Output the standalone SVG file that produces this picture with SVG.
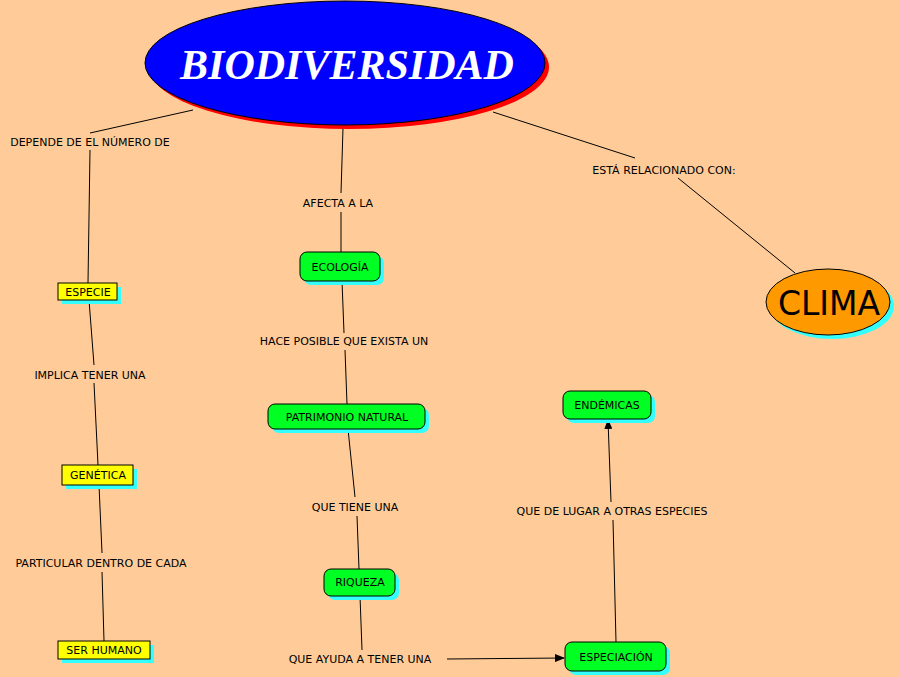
<svg xmlns="http://www.w3.org/2000/svg" width="899" height="677" viewBox="0 0 899 677">
<style>
.l{stroke:#000;stroke-width:1;fill:none}
.t{font-family:"DejaVu Sans",sans-serif;font-size:11px;fill:#000;text-anchor:middle}
.g{fill:#00ff22;stroke:#000;stroke-width:1}
.y{fill:#ffff00;stroke:#000;stroke-width:1}
.s{fill:#33ffff}
</style>
<defs><marker id="a" markerWidth="10" markerHeight="8" refX="9" refY="4" orient="auto" markerUnits="userSpaceOnUse"><path d="M0,0L10,4L0,8z" fill="#000"/></marker></defs>
<rect width="899" height="677" fill="#ffcc99"/>
<g id="connectors">
<path class="l" d="M193,110L90,133M90,150L88,283M89,300L94,365M94,383L98,465M99,485L102,553M102,572L104,641M343,128L341,193M341,212L341,252M342,281L344,333M345,350L347,404M348,429L355,497M357,516L359,569M360,596L362,650M493,112L635,158M678,178L795,273M616,642L613,520"/>
<path class="l" d="M447,659L564,658" marker-end="url(#a)"/>
<path class="l" d="M611,502L608,420" marker-end="url(#a)"/>
<text class="t" x="90" y="146">DEPENDE DE EL NÚMERO DE</text>
<text class="t" x="90" y="379">IMPLICA TENER UNA</text>
<text class="t" x="101" y="567">PARTICULAR DENTRO DE CADA</text>
<text class="t" x="338" y="207">AFECTA A LA</text>
<text class="t" x="344" y="345">HACE POSIBLE QUE EXISTA UN</text>
<text class="t" x="355" y="511">QUE TIENE UNA</text>
<text class="t" x="360" y="663">QUE AYUDA A TENER UNA</text>
<text class="t" x="612" y="515">QUE DE LUGAR A OTRAS ESPECIES</text>
<text class="t" x="664" y="174">ESTÁ RELACIONADO CON:</text>
</g>
<g id="biodiversidad">
<ellipse cx="349" cy="67" rx="200" ry="62" fill="#ff0000"/>
<ellipse cx="345" cy="63" rx="200" ry="62" fill="#0000ff" stroke="#000"/>
<text x="347" y="79" font-family="Liberation Serif,serif" font-style="italic" font-weight="bold" font-size="42" fill="#fff" text-anchor="middle">BIODIVERSIDAD</text>
</g>
<g id="clima">
<ellipse cx="832" cy="306" rx="62" ry="33" class="s"/>
<ellipse cx="828" cy="302" rx="62" ry="33" fill="#ff9900" stroke="#000"/>
<text x="829" y="315" font-family="DejaVu Sans,sans-serif" font-size="33" text-anchor="middle">CLIMA</text>
</g>
<g id="especie"><rect x="62" y="287" width="59" height="17" class="s"/><rect x="58" y="283" width="59" height="17" class="y"/><text class="t" x="88" y="296">ESPECIE</text></g>
<g id="genetica"><rect x="66" y="469" width="71" height="20" class="s"/><rect x="62" y="465" width="71" height="20" class="y"/><text class="t" x="98" y="479">GENÉTICA</text></g>
<g id="serhumano"><rect x="62" y="645" width="92" height="18" class="s"/><rect x="58" y="641" width="92" height="18" class="y"/><text class="t" x="104" y="654">SER HUMANO</text></g>
<g id="ecologia"><rect x="304" y="256" width="80" height="29" rx="7" class="s"/><rect x="300" y="252" width="80" height="29" rx="7" class="g"/><text class="t" x="340" y="271">ECOLOGÍA</text></g>
<g id="patrimonio"><rect x="272" y="408" width="157" height="25" rx="7" class="s"/><rect x="268" y="404" width="157" height="25" rx="7" class="g"/><text class="t" x="347" y="421">PATRIMONIO NATURAL</text></g>
<g id="riqueza"><rect x="328" y="573" width="71" height="27" rx="7" class="s"/><rect x="324" y="569" width="71" height="27" rx="7" class="g"/><text class="t" x="360" y="586">RIQUEZA</text></g>
<g id="especiacion"><rect x="569" y="646" width="101" height="29" rx="7" class="s"/><rect x="565" y="642" width="101" height="29" rx="7" class="g"/><text class="t" x="616" y="661">ESPECIACIÓN</text></g>
<g id="endemicas"><rect x="567" y="395" width="88" height="28" rx="7" class="s"/><rect x="563" y="391" width="88" height="28" rx="7" class="g"/><text class="t" x="607" y="409">ENDÉMICAS</text></g>
</svg>
